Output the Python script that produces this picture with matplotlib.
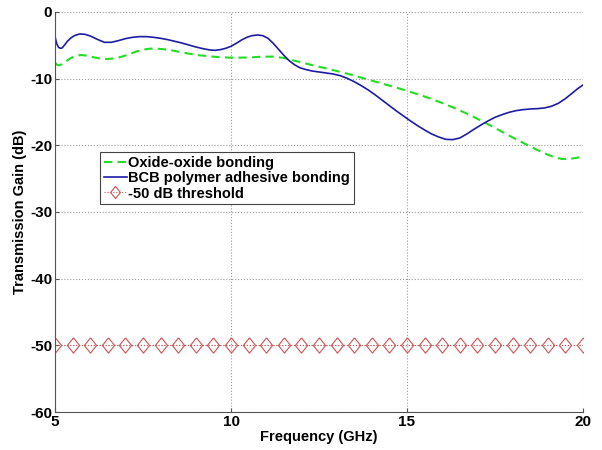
import matplotlib.pyplot as plt

plt.rcParams['font.family'] = ['Liberation Sans', 'DejaVu Sans']
plt.rcParams['font.weight'] = 'bold'
plt.rcParams['axes.unicode_minus'] = False

# values
freq_bcb = [5.0, 5.05, 5.1, 5.15, 5.2, 5.28, 5.35, 5.45, 5.55, 5.7, 5.85, 6.0, 6.2,
            6.4, 6.6, 6.8, 7.0, 7.2, 7.4, 7.6, 7.8, 8.0, 8.2, 8.4, 8.6, 8.8, 9.0,
            9.2, 9.4, 9.55, 9.7, 9.85, 10.0, 10.15, 10.3, 10.45, 10.6, 10.75,
            10.9, 11.05, 11.2, 11.35, 11.5, 11.65, 11.8, 11.95, 12.1, 12.3, 12.5,
            12.7, 12.9, 13.1, 13.3, 13.5, 13.7, 13.9, 14.1, 14.3, 14.5, 14.7,
            14.9, 15.1, 15.3, 15.5, 15.7, 15.9, 16.1, 16.3, 16.5, 16.7, 16.9,
            17.1, 17.3, 17.5, 17.7, 17.9, 18.1, 18.3, 18.5, 18.7, 18.9, 19.1,
            19.3, 19.5, 19.7, 19.85, 20.0]
gain_bcb = [-3.7, -4.8, -5.3, -5.45, -5.4, -4.9, -4.4, -3.9, -3.55, -3.3, -3.35,
            -3.6, -4.1, -4.55, -4.55, -4.3, -4.0, -3.8, -3.7, -3.7, -3.8, -3.95,
            -4.15, -4.4, -4.65, -4.95, -5.25, -5.5, -5.7, -5.75, -5.65, -5.45,
            -5.15, -4.7, -4.2, -3.8, -3.55, -3.45, -3.55, -3.95, -4.7, -5.6,
            -6.5, -7.3, -7.9, -8.35, -8.6, -8.85, -9.0, -9.15, -9.3, -9.55, -9.95,
            -10.45, -11.05, -11.7, -12.45, -13.25, -14.05, -14.85, -15.6, -16.35,
            -17.05, -17.7, -18.3, -18.75, -19.1, -19.15, -18.9, -18.3, -17.6,
            -16.95, -16.35, -15.8, -15.4, -15.05, -14.8, -14.65, -14.55, -14.5,
            -14.4, -14.15, -13.7, -13.0, -12.15, -11.5, -10.95]

freq_oxide = [5.0, 5.05, 5.1, 5.2, 5.3, 5.45, 5.6, 5.75, 5.9, 6.1, 6.3, 6.5, 6.7,
              6.9, 7.1, 7.3, 7.5, 7.7, 7.9, 8.2, 8.5, 8.8, 9.1, 9.4, 9.7, 10.0,
              10.3, 10.6, 10.9, 11.2, 11.5, 11.8, 12.1, 12.4, 12.7, 13.0, 13.3,
              13.6, 13.9, 14.2, 14.5, 14.8, 15.1, 15.4, 15.7, 16.0, 16.3, 16.6,
              16.9, 17.2, 17.5, 17.8, 18.1, 18.4, 18.7, 19.0, 19.2, 19.4, 19.6,
              19.8, 20.0]
gain_oxide = [-7.6, -7.9, -8.0, -7.85, -7.45, -6.9, -6.55, -6.45, -6.55, -6.8,
              -7.0, -7.05, -6.95, -6.7, -6.35, -5.95, -5.65, -5.5, -5.5, -5.65,
              -5.95, -6.25, -6.5, -6.65, -6.8, -6.85, -6.85, -6.8, -6.7, -6.7,
              -6.9, -7.3, -7.7, -8.1, -8.45, -8.85, -9.25, -9.7, -10.15, -10.6,
              -11.05, -11.5, -12.0, -12.5, -13.05, -13.65, -14.3, -15.0, -15.75,
              -16.55, -17.4, -18.25, -19.1, -19.9, -20.7, -21.4, -21.8, -22.05,
              -22.05, -21.9, -21.7]

freq_thr = [5.0 + 0.5 * i for i in range(31)]
gain_thr = [-50] * 31

diamond = [(0, 1), (0.8, 0), (0, -1), (-0.8, 0), (0, 1)]

fig = plt.figure(figsize=(6.02, 4.5), dpi=100)
ax = fig.add_axes([0.0914, 0.0844, 0.877, 0.889])

ax.plot(freq_oxide, gain_oxide, '--', color='#22dd22', lw=1.5, dashes=(4, 2.5),
        label='Oxide-oxide bonding')
ax.plot(freq_bcb, gain_bcb, '-', color='#1c1ca8', lw=1.2,
        label='BCB polymer adhesive bonding')
ax.plot(freq_thr, gain_thr, ':', color='#cc5555', lw=0.8, marker=diamond,
        markersize=11, markerfacecolor='none', markeredgewidth=0.8,
        label='-50 dB threshold')

ax.set_xlim(5, 20)
ax.set_ylim(-60, 0)
ax.set_xticks([5, 10, 15, 20])
ax.set_yticks([0, -10, -20, -30, -40, -50, -60])
ax.grid(True, linestyle=':', color='#999999', lw=0.8)
for s in ['top', 'right']:
    ax.spines[s].set_visible(False)
for s in ['left', 'bottom']:
    ax.spines[s].set_color('#555555')
ax.tick_params(direction='in', length=3, pad=2, labelsize=11, colors='#555555',
               labelcolor='black')

ax.set_xlabel('Frequency (GHz)', fontsize=10.5, fontweight='bold', labelpad=1)
ax.set_ylabel('Transmission Gain (dB)', fontsize=10.5, fontweight='bold', labelpad=2)

leg = ax.legend(loc='upper left', bbox_to_anchor=(0.085, 0.65), borderaxespad=0,
                fontsize=10.5, handlelength=1.6, handletextpad=0.1, borderpad=0.25,
                labelspacing=0.1, fancybox=False, framealpha=1, markerscale=0.8)
leg.get_frame().set_edgecolor('#444444')
leg.get_frame().set_linewidth(0.8)

fig.savefig('out.png', dpi=100)
